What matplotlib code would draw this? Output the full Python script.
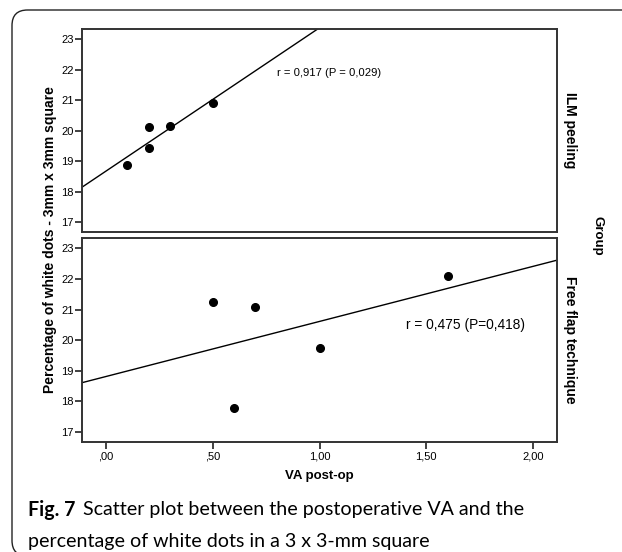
import matplotlib
matplotlib.use("Agg")
import matplotlib.pyplot as plt
from matplotlib.patches import FancyBboxPatch
import numpy as np

# VA post-op vs percentage of white dots
ilm_va = [0.10, 0.20, 0.20, 0.30, 0.50]
ilm_dots = [18.87, 20.12, 19.42, 20.16, 20.91]
flap_va = [0.50, 0.70, 0.60, 1.00, 1.60]
flap_dots = [21.26, 21.09, 17.79, 19.75, 22.09]

groups = ["ILM peeling", "Free flap technique"]
notes = ["r = 0,917 (P = 0,029)", "r = 0,475 (P=0,418)"]
note_pos = [(0.80, 21.9), (1.405, 20.48)]
note_size = [8.1, 9.9]

xticks = [0.0, 0.5, 1.0, 1.5, 2.0]
xticklabels = [",00", ",50", "1,00", "1,50", "2,00"]
yticks = [17, 18, 19, 20, 21, 22, 23]

plt.rcParams['font.family'] = ['Liberation Sans', 'DejaVu Sans']

W, H = 622, 552
fig = plt.figure(figsize=(W / 100, H / 100), dpi=100)

# outer rounded frame (open at right / bottom edge)
frame = FancyBboxPatch((12 / W, 1 - 556 / H), 640 / W, 546 / H,
                       boxstyle="round,pad=0,rounding_size=0.025",
                       transform=fig.transFigure, fill=False,
                       edgecolor="#222222", lw=1.0, clip_on=False,
                       mutation_aspect=W / H)
fig.patches.append(frame)

left, right = 82 / W, 557 / W
ax1 = fig.add_axes([left, 1 - 232 / H, right - left, 203 / H])
ax2 = fig.add_axes([left, 1 - 442 / H, right - left, 204 / H])

data = [(ilm_va, ilm_dots), (flap_va, flap_dots)]
for i, ax in enumerate([ax1, ax2]):
    x, y = data[i]
    ax.plot(x, y, 'o', color='black', ms=5.5, zorder=3)
    k, b = np.polyfit(x, y, 1)
    xs = np.array([-0.2, 2.3])
    ax.plot(xs, k * xs + b, color='black', lw=1.0)
    ax.set_xlim(-0.1125, 2.1125)
    ax.set_ylim(16.67, 23.34)
    ax.set_yticks(yticks)
    ax.tick_params(axis='y', direction='out', length=5, width=1.3,
                   labelsize=8, color='#333333', pad=1)
    for s in ax.spines.values():
        s.set_linewidth(1.4)
        s.set_color('#333333')
    ax.text(note_pos[i][0], note_pos[i][1], notes[i], fontsize=note_size[i],
            va='center', ha='left')
    ax.text(1.012, 0.5, groups[i], transform=ax.transAxes, rotation=-90,
            fontsize=10, fontweight='bold', va='center', ha='left')

ax1.set_xticks([])
ax2.set_xticks(xticks)
ax2.set_xticklabels(xticklabels)
ax2.tick_params(axis='x', direction='out', length=5, width=1.3,
                labelsize=8, color='#333333', pad=2)
ax2.set_xlabel("VA post-op", fontsize=9.5, fontweight='bold', labelpad=6)

fig.text(50 / W, 1 - 240 / H, "Percentage of white dots - 3mm x 3mm square",
         rotation=90, fontsize=10, fontweight='bold', va='center', ha='center')
fig.text(597 / W, 1 - 236 / H, "Group", rotation=-90, fontsize=9.5,
         fontweight='bold', va='center', ha='center')

# caption
cap = ['Lato', 'DejaVu Sans']
t1 = fig.text(28 / W, 1 - 510 / H, "Fig. 7", family=cap, fontsize=14.1,
              fontweight='bold', va='center', ha='left')
fig.canvas.draw()
bb = t1.get_window_extent()
fig.text((bb.x1 + 8) / W, 1 - 510 / H,
         "Scatter plot between the postoperative VA and the",
         family=cap, fontsize=14.1, va='center', ha='left')
fig.text(28 / W, 1 - 541 / H, "percentage of white dots in a 3 x 3-mm square",
         family=cap, fontsize=14.1, va='center', ha='left')

fig.savefig("out.png", dpi=100)
